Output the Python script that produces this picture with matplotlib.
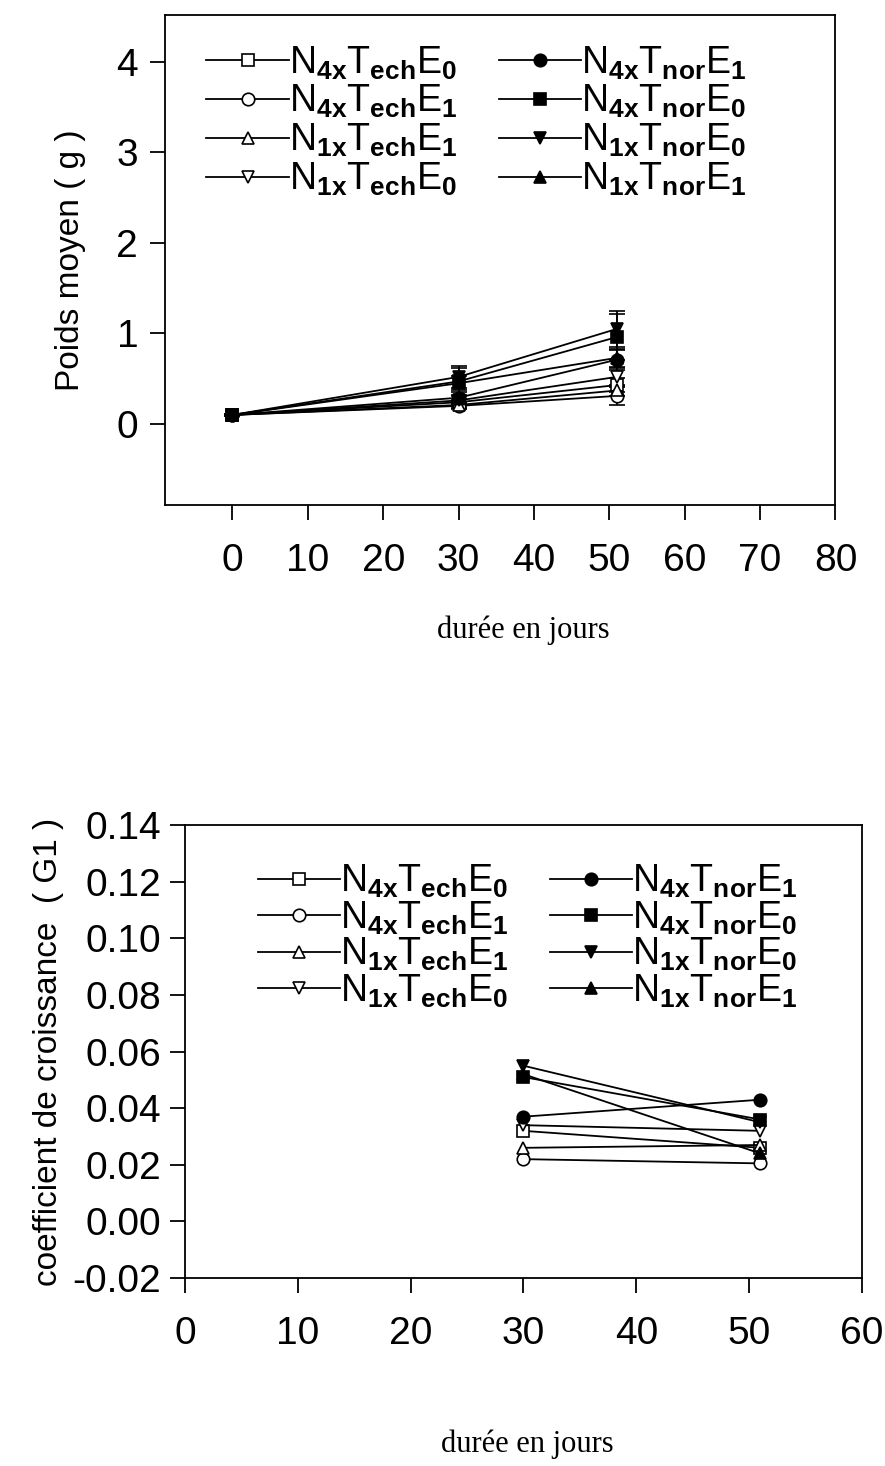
import numpy as np
import matplotlib.pyplot as plt

plt.rcParams['font.family'] = ['Liberation Sans', 'DejaVu Sans']
plt.rcParams['mathtext.fontset'] = 'custom'
plt.rcParams['mathtext.rm'] = 'Liberation Sans'
plt.rcParams['mathtext.bf'] = 'Liberation Sans:bold'
plt.rcParams['mathtext.it'] = 'Liberation Sans'


# series names, in legend order (column 1 then column 2)
names = ["N4xTechE0", "N4xTechE1", "N1xTechE1", "N1xTechE0",
         "N4xTnorE1", "N4xTnorE0", "N1xTnorE0", "N1xTnorE1"]
labels = [r"$\mathregular{N_{\mathbf{4x}}T_{\mathbf{ech}}E_{\mathbf{0}}}$",
          r"$\mathregular{N_{\mathbf{4x}}T_{\mathbf{ech}}E_{\mathbf{1}}}$",
          r"$\mathregular{N_{\mathbf{1x}}T_{\mathbf{ech}}E_{\mathbf{1}}}$",
          r"$\mathregular{N_{\mathbf{1x}}T_{\mathbf{ech}}E_{\mathbf{0}}}$",
          r"$\mathregular{N_{\mathbf{4x}}T_{\mathbf{nor}}E_{\mathbf{1}}}$",
          r"$\mathregular{N_{\mathbf{4x}}T_{\mathbf{nor}}E_{\mathbf{0}}}$",
          r"$\mathregular{N_{\mathbf{1x}}T_{\mathbf{nor}}E_{\mathbf{0}}}$",
          r"$\mathregular{N_{\mathbf{1x}}T_{\mathbf{nor}}E_{\mathbf{1}}}$"]
markers = ['s', 'o', '^', 'v', 'o', 's', 'v', '^']
filled = [False, False, False, False, True, True, True, True]

# mean weight (g) at day 0, 30, 51
days_w = [0, 30, 51]
poids = {
    "N4xTechE0": [0.10, 0.24, 0.43],
    "N4xTechE1": [0.10, 0.20, 0.31],
    "N1xTechE1": [0.10, 0.21, 0.37],
    "N1xTechE0": [0.10, 0.26, 0.52],
    "N4xTnorE1": [0.10, 0.29, 0.71],
    "N4xTnorE0": [0.10, 0.47, 0.96],
    "N1xTnorE0": [0.10, 0.52, 1.05],
    "N1xTnorE1": [0.10, 0.45, 0.73],
}
poids_err = {
    "N4xTechE0": [0.01, 0.04, 0.08],
    "N4xTechE1": [0.01, 0.03, 0.10],
    "N1xTechE1": [0.01, 0.03, 0.06],
    "N1xTechE0": [0.01, 0.05, 0.10],
    "N4xTnorE1": [0.01, 0.06, 0.11],
    "N4xTnorE0": [0.01, 0.15, 0.25],
    "N1xTnorE0": [0.01, 0.12, 0.20],
    "N1xTnorE1": [0.01, 0.08, 0.10],
}

# growth coefficient G1 at day 30, 51
days_g = [30, 51]
g1 = {
    "N4xTechE0": [0.032, 0.026],
    "N4xTechE1": [0.022, 0.0205],
    "N1xTechE1": [0.026, 0.027],
    "N1xTechE0": [0.034, 0.032],
    "N4xTnorE1": [0.037, 0.043],
    "N4xTnorE0": [0.051, 0.036],
    "N1xTnorE0": [0.055, 0.035],
    "N1xTnorE1": [0.052, 0.024],
}

fig = plt.figure(figsize=(8.85, 14.66), dpi=100)
ax1 = fig.add_axes([0.186, 0.6555, 0.758, 0.3345])
ax2 = fig.add_axes([0.209, 0.1282, 0.765, 0.309])


def style_axis(ax):
    for s in ax.spines.values():
        s.set_linewidth(1.3)
    ax.tick_params(direction='out', length=11, width=1.3, labelsize=28,
                   top=False, right=False)


# top: mean weight
for i, n in enumerate(names):
    ax1.errorbar(days_w, poids[n], yerr=poids_err[n], color='black', lw=1.3,
                 marker=markers[i], ms=9, mfc='black' if filled[i] else 'white',
                 mec='black', mew=1.2, capsize=6, capthick=1.3, elinewidth=1.3,
                 label=labels[i])
ax1.set_xlim(-9, 80)
ax1.set_ylim(-0.895, 4.52)
ax1.set_xticks(range(0, 81, 10))
ax1.set_yticks([0, 1, 2, 3, 4])
style_axis(ax1)
ax1.tick_params(axis='x', pad=16)
ax1.tick_params(axis='y', pad=8)
ax1.set_ylabel("Poids moyen ( g )", fontsize=24, labelpad=22)
ax1.set_xlabel("durée en jours", fontsize=22, family='Liberation Serif')
ax1.xaxis.set_label_coords(0.535, -0.225)
h, l = ax1.get_legend_handles_labels()
h = [x[0] for x in h]
ax1.legend(h, l, ncol=2, frameon=False, loc='upper left', bbox_to_anchor=(0.04, 0.97),
           fontsize=27, handlelength=2.2, handletextpad=0.0, columnspacing=1.1,
           labelspacing=0.04, borderaxespad=0)

# bottom: growth coefficient
for i, n in enumerate(names):
    ax2.plot(days_g, g1[n], color='black', lw=1.3, marker=markers[i], ms=9,
             mfc='black' if filled[i] else 'white', mec='black', mew=1.2,
             label=labels[i])
ax2.set_xlim(0, 60)
ax2.set_ylim(-0.02, 0.14)
ax2.set_xticks(range(0, 61, 10))
ax2.set_yticks(np.arange(-0.02, 0.141, 0.02))
ax2.set_yticklabels(["%.2f" % v for v in np.arange(-0.02, 0.141, 0.02)])
style_axis(ax2)
ax2.tick_params(axis='x', pad=16)
ax2.tick_params(axis='y', pad=6)
ax2.set_ylabel("coefficient de croissance  ( G1 )", fontsize=24, labelpad=6)
ax2.set_xlabel("durée en jours", fontsize=22, family='Liberation Serif')
ax2.xaxis.set_label_coords(0.505, -0.335)
ax2.legend(ncol=2, frameon=False, loc='upper left', bbox_to_anchor=(0.085, 0.95),
           fontsize=27, handlelength=2.2, handletextpad=0.0, columnspacing=1.1,
           labelspacing=-0.02, borderaxespad=0)

plt.savefig("out.png", dpi=100)
